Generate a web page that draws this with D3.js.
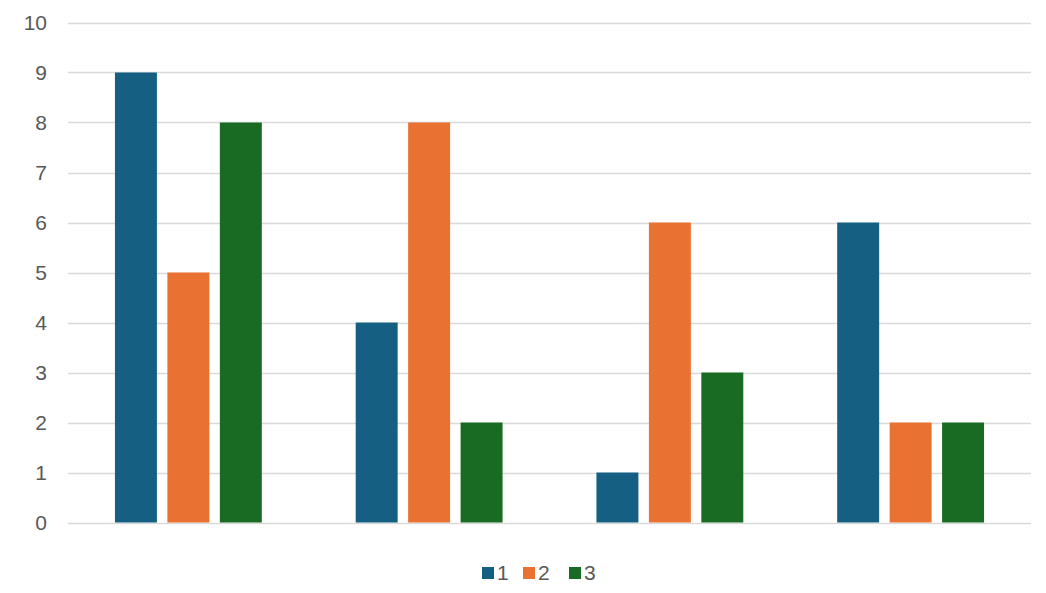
<!DOCTYPE html>
<html><head><meta charset="utf-8">
<script src="https://cdn.jsdelivr.net/npm/d3@7"></script>
<style>body{margin:0;background:#fff}svg{display:block}text{font-family:"Liberation Sans",Arial,sans-serif;fill:#595959}</style>
</head><body><svg id="c" width="1046" height="593"></svg>
<script>
const categories = ["A","B","C","D"];
const seriesNames = ["1","2","3"];
const series1 = [9,4,1,6];
const series2 = [5,8,6,2];
const series3 = [8,2,3,2];
const yTicks = [0,1,2,3,4,5,6,7,8,9,10];
const colors = ["#156082","#E97132","#196B24"];
const allSeries = [series1, series2, series3];

const svg = d3.select("#c");
const mLeft = 68, mRight = 1031, mTop = 22.5, mBottom = 522.5;
const x0 = d3.scaleBand().domain(categories).range([mLeft, mRight]).paddingInner(0.39).paddingOuter(0.195);
const x1 = d3.scaleBand().domain(seriesNames).range([0, x0.bandwidth()]).paddingInner(0.2);
const y = d3.scaleLinear().domain([0,10]).range([mBottom, mTop]);

const g = svg.append("g");
g.selectAll("line.grid").data(yTicks).join("line")
  .attr("x1", mLeft).attr("x2", mRight)
  .attr("y1", d => Math.round(y(d))+0.5).attr("y2", d => Math.round(y(d))+0.5)
  .attr("stroke", "#d9d9d9").attr("stroke-width", 1.3);

const yAxis = d3.axisLeft(y).tickValues(yTicks).tickSize(0).tickPadding(0);
const ya = svg.append("g").attr("transform", `translate(47,0)`).call(yAxis);
ya.select(".domain").remove();
ya.selectAll("text").style("font-size","21px").attr("fill","#595959").attr("dy","0.35em");

categories.forEach((c, ci) => {
  seriesNames.forEach((s, si) => {
    const v = allSeries[si][ci];
    svg.append("rect")
      .attr("x", x0(c) + x1(s)).attr("width", x1.bandwidth())
      .attr("y", y(v)).attr("height", y(0) - y(v))
      .attr("fill", colors[si]);
  });
});

const legendX = [482, 523, 569];
const lg = svg.append("g");
seriesNames.forEach((s, i) => {
  lg.append("rect").attr("x", legendX[i]).attr("y", 567).attr("width", 12).attr("height", 12).attr("fill", colors[i]);
  lg.append("text").attr("x", legendX[i] + 15).attr("y", 573).attr("dy","0.35em").style("font-size","21px").text(s);
});
</script></body></html>
